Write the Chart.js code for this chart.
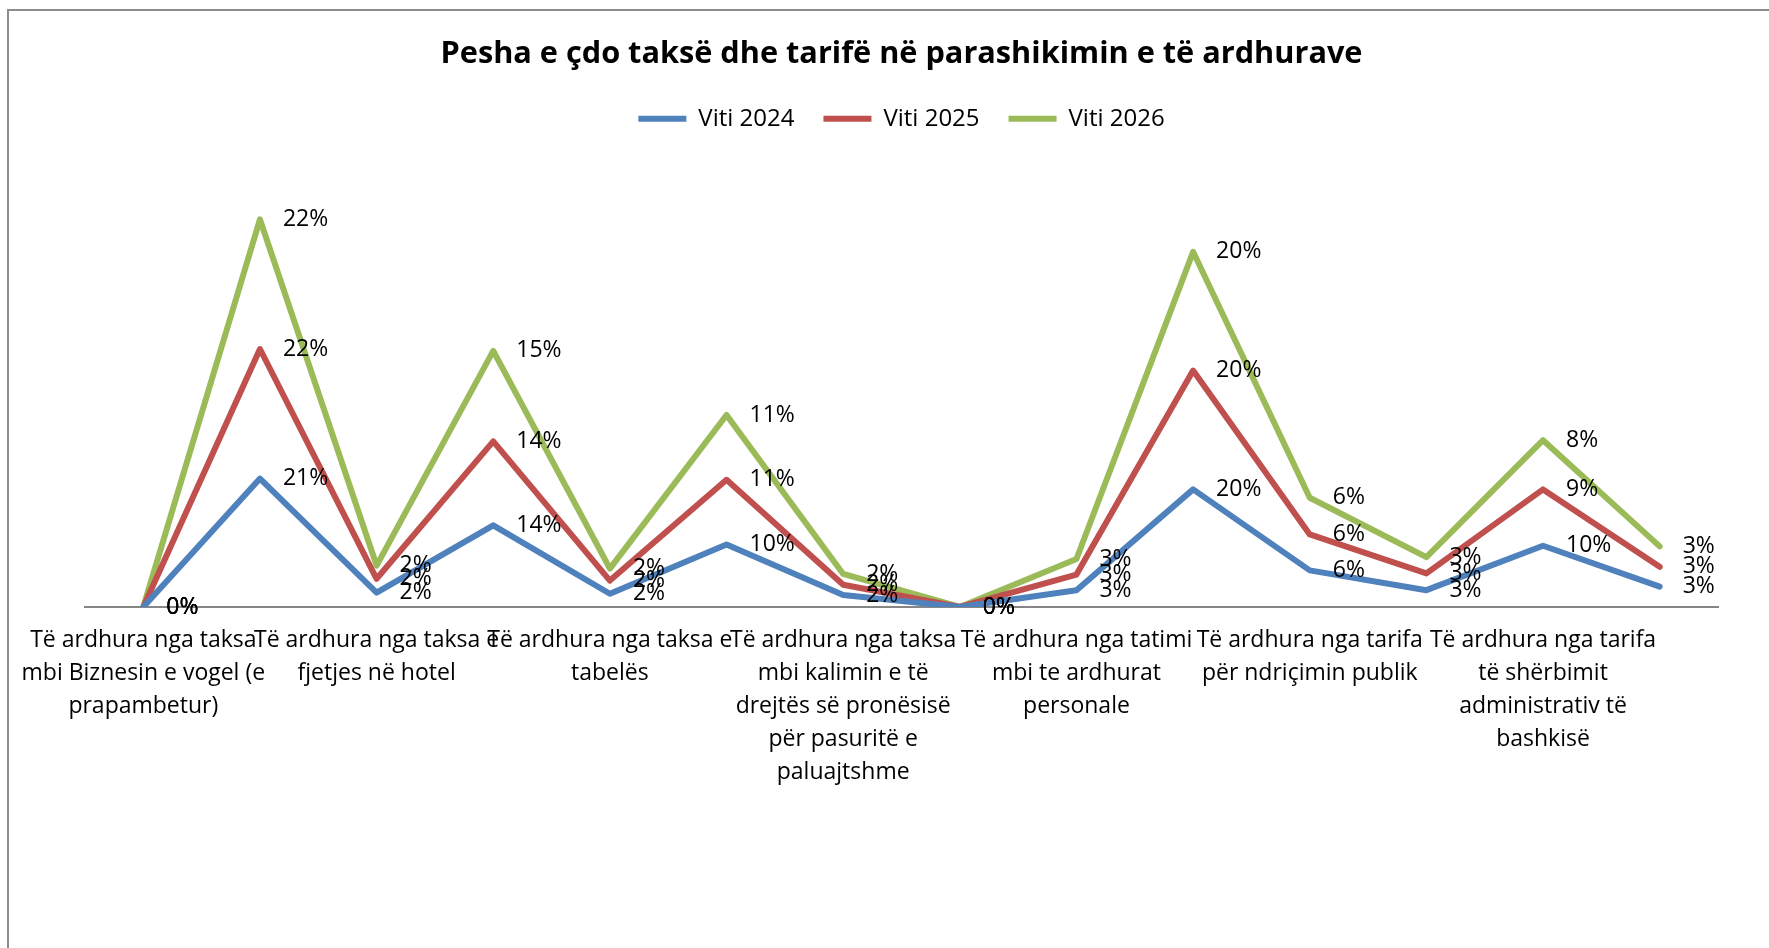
<!DOCTYPE html>
<html>
<head>
<meta charset="utf-8">
<script src="https://cdn.jsdelivr.net/npm/chart.js@4"></script>
<style>
    body { margin: 0; background: white; }
    canvas { display: block; }
</style>
</head>
<body>
<canvas id="chart" width="1769" height="948"></canvas>
<script>
// 14 categories; Excel only printed every second name, the others are unreadable
const categories = [
    ['Të ardhura nga taksa', 'mbi Biznesin e vogel (e', 'prapambetur)'],
    '',
    ['Të ardhura nga taksa e', 'fjetjes në hotel'],
    '',
    ['Të ardhura nga taksa e', 'tabelës'],
    '',
    ['Të ardhura nga taksa', 'mbi kalimin e të', 'drejtës së pronësisë', 'për pasuritë e', 'paluajtshme'],
    '',
    ['Të ardhura nga tatimi', 'mbi te ardhurat', 'personale'],
    '',
    ['Të ardhura nga tarifa', 'për ndriçimin publik'],
    '',
    ['Të ardhura nga tarifa', 'të shërbimit', 'administrativ të', 'bashkisë'],
    ''
];

const viti2024 = [0, 0.214, 0.024, 0.136, 0.022, 0.104, 0.020, 0, 0.028, 0.196, 0.061, 0.028, 0.102, 0.034];
const viti2025 = [0, 0.216, 0.023, 0.140, 0.022, 0.108, 0.017, 0, 0.026, 0.198, 0.060, 0.028, 0.094, 0.033];
const viti2026 = [0, 0.216, 0.022, 0.151, 0.020, 0.108, 0.018, 0, 0.026, 0.198, 0.061, 0.027, 0.082, 0.034];

const seriesNames = ['Viti 2024', 'Viti 2025', 'Viti 2026'];
const seriesColors = ['#4F81BD', '#C0504D', '#9BBB59'];

const frame = {
    id: 'frame',
    beforeDraw(chart) {
        const ctx = chart.ctx;
        ctx.save();
        ctx.fillStyle = 'white';
        ctx.fillRect(0, 0, chart.width, chart.height);
        ctx.strokeStyle = '#8c8c8c';
        ctx.lineWidth = 2;
        ctx.beginPath();
        ctx.moveTo(chart.width, 10);
        ctx.lineTo(8, 10);
        ctx.lineTo(8, chart.height);
        ctx.stroke();
        ctx.restore();
    }
};

// percent labels to the right of each point, like Excel "Right" position
const pointLabels = {
    id: 'pointLabels',
    afterDatasetsDraw(chart) {
        const ctx = chart.ctx;
        ctx.save();
        ctx.font = '23px "Open Sans"';
        ctx.fillStyle = 'black';
        ctx.textAlign = 'left';
        ctx.textBaseline = 'middle';
        chart.data.datasets.forEach((ds, i) => {
            chart.getDatasetMeta(i).data.forEach((pt, j) => {
                ctx.fillText(Math.round(ds.data[j] * 100) + '%', pt.x + 23, pt.y);
            });
        });
        ctx.restore();
    }
};

const makeSet = (values, i) => ({
    label: seriesNames[i],
    data: values,
    borderColor: seriesColors[i],
    backgroundColor: seriesColors[i],
    borderWidth: 6,
    borderJoinStyle: 'round',
    borderCapStyle: 'round',
    pointRadius: 0,
    fill: false,
    tension: 0
});

new Chart(document.getElementById('chart'), {
    type: 'line',
    data: {
        labels: categories,
        datasets: [viti2024, viti2025, viti2026].map(makeSet)
    },
    options: {
        responsive: false,
        animation: false,
        layout: {
            padding: { left: 85, right: 51, top: 0, bottom: 142 }
        },
        plugins: {
            title: {
                display: true,
                text: 'Pesha e çdo taksë dhe tarifë në parashikimin e të ardhurave',
                color: 'black',
                font: { family: 'Open Sans', size: 30.7, weight: 'bold' },
                padding: { top: 36, bottom: 5 }
            },
            legend: {
                labels: {
                    color: 'black',
                    font: { family: 'Open Sans', size: 24 },
                    usePointStyle: true,
                    pointStyle: 'line',
                    pointStyleWidth: 48,
                    padding: 29
                }
            },
            tooltip: { enabled: false }
        },
        scales: {
            x: {
                offset: true,
                grid: { display: false, drawTicks: false },
                border: { display: true, color: '#868686', width: 2 },
                ticks: {
                    autoSkip: false,
                    maxRotation: 0,
                    minRotation: 0,
                    padding: 17,
                    color: 'black',
                    font: { family: 'Open Sans', size: 23, lineHeight: 1.435 }
                }
            },
            y: {
                display: false,
                stacked: true,
                min: 0,
                max: 0.777
            }
        }
    },
    plugins: [frame, pointLabels]
});
</script>
</body>
</html>
